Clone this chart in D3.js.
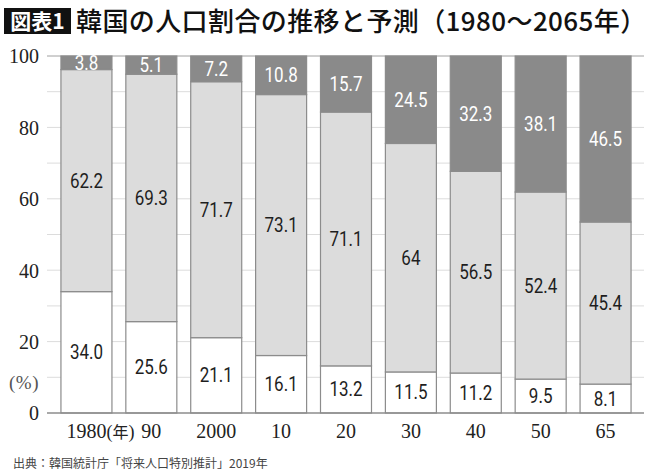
<!DOCTYPE html>
<html>
<head>
<meta charset="utf-8">
<script src="https://cdn.jsdelivr.net/npm/d3@7"></script>
<style>
  body { margin: 0; background: #fff; }
  svg { display: block; }
</style>
</head>
<body>
<div id="chart"></div>
<script>
// Data (percent of population by age group)
const years = ["1980", "90", "2000", "10", "20", "30", "40", "50", "65"];
const young = [34.0, 25.6, 21.1, 16.1, 13.2, 11.5, 11.2, 9.5, 8.1];     // 0-14
const working = [62.2, 69.3, 71.7, 73.1, 71.1, 64, 56.5, 52.4, 45.4];   // 15-64
const old = [3.8, 5.1, 7.2, 10.8, 15.7, 24.5, 32.3, 38.1, 46.5];        // 65+
const yTicks = [0, 20, 40, 60, 80, 100];

const width = 650, height = 472;

const svg = d3.select("#chart")
    .append("svg")
    .attr("width", width)
    .attr("height", height);

// Title
svg.append("rect")
    .attr("x", 4).attr("y", 8)
    .attr("width", 67).attr("height", 26)
    .attr("fill", "#111");

svg.append("text")
    .attr("x", 37.5).attr("y", 29)
    .attr("text-anchor", "middle")
    .attr("fill", "#fff")
    .style("font-family", "'Noto Sans CJK JP', sans-serif")
    .style("font-weight", 700)
    .style("font-size", "21px")
    .text("図表1");

svg.append("text")
    .attr("x", 76).attr("y", 31)
    .attr("fill", "#111")
    .style("font-family", "'Noto Sans CJK JP', sans-serif")
    .style("font-weight", 500)
    .style("font-size", "26px")
    .style("letter-spacing", "0.4px")
    .text("韓国の人口割合の推移と予測（1980〜2065年）");

// Scales
const x = d3.scaleBand()
    .domain(years)
    .range([54, 638])
    .paddingInner(0.214)
    .paddingOuter(0.107);

const y = d3.scaleLinear()
    .domain([0, 100])
    .range([413, 56]);

// Gridlines every 10
const grid = svg.append("g").attr("class", "grid");
grid.selectAll("line")
    .data(d3.range(10, 101, 10))
    .enter()
    .append("line")
    .attr("x1", 47).attr("x2", 644)
    .attr("y1", d => y(d)).attr("y2", d => y(d))
    .attr("stroke", d => d === 100 ? "#a0a0a0" : "#dcdcdc")
    .attr("stroke-width", 1);

// Stacked series
const rows = years.map((yr, i) => ({ year: yr, young: young[i], working: working[i], old: old[i] }));
const keys = ["young", "working", "old"];
const fills = { young: "#ffffff", working: "#dcdcdc", old: "#8a8a8a" };
const textColors = { young: "#1e1e1e", working: "#1e1e1e", old: "#ffffff" };
const fmt = {
    young: v => v.toFixed(1),
    working: v => String(v),
    old: v => String(v)
};

const stack = d3.stack().keys(keys)(rows);

const series = svg.append("g")
    .selectAll("g")
    .data(stack)
    .enter()
    .append("g");

series.selectAll("rect")
    .data(s => s.map(d => ({ key: s.key, d })))
    .enter()
    .append("rect")
    .attr("x", p => x(p.d.data.year))
    .attr("width", x.bandwidth())
    .attr("y", p => y(p.d[1]))
    .attr("height", p => y(p.d[0]) - y(p.d[1]))
    .attr("fill", p => fills[p.key])
    .attr("stroke", "#8c8c8c")
    .attr("stroke-width", 1.2);

// Value labels centred in each segment
series.selectAll("text")
    .data(s => s.map(d => ({ key: s.key, d })))
    .enter()
    .append("text")
    .attr("transform", p => {
        const cx = x(p.d.data.year) + x.bandwidth() / 2;
        const cy = (y(p.d[0]) + y(p.d[1])) / 2 + 7;
        return `translate(${cx},${cy}) scale(0.85,1)`;
    })
    .attr("text-anchor", "middle")
    .attr("fill", p => textColors[p.key])
    .style("font-family", "Roboto, 'Liberation Sans', sans-serif")
    .style("font-weight", 400)
    .style("font-size", "20px")
    .text(p => fmt[p.key](p.d.data[p.key]));

// Baseline
svg.append("line")
    .attr("x1", 47).attr("x2", 644)
    .attr("y1", y(0)).attr("y2", y(0))
    .attr("stroke", "#8c8c8c")
    .attr("stroke-width", 1.3);

// Y axis labels
const yAxis = d3.axisLeft(y).tickValues(yTicks).tickSize(0).tickPadding(0);
const yg = svg.append("g")
    .attr("transform", "translate(39,0)")
    .call(yAxis);
yg.select(".domain").remove();
yg.selectAll("text")
    .attr("fill", "#222")
    .attr("dy", "0.34em")
    .style("font-family", "'Liberation Serif', 'DejaVu Serif', serif")
    .style("font-size", "20px");

svg.append("text")
    .attr("x", 9).attr("y", 389)
    .attr("fill", "#555")
    .style("font-family", "'Liberation Serif', serif")
    .style("font-size", "19px")
    .style("letter-spacing", "0.5px")
    .text("(%)");

// X axis labels
const xAxis = d3.axisBottom(x).tickSize(0).tickPadding(0);
const xg = svg.append("g")
    .attr("transform", "translate(0,424)")
    .call(xAxis);
xg.select(".domain").remove();
xg.selectAll("text")
    .attr("fill", "#222")
    .attr("dy", "0.72em")
    .style("font-family", "'Liberation Serif', 'DejaVu Serif', serif")
    .style("font-size", "20px");

// "(年)" unit after the first year
const firstRight = x("1980") + x.bandwidth() / 2 + 20;
svg.append("text")
    .attr("x", firstRight).attr("y", 438)
    .attr("fill", "#222")
    .style("font-family", "'Liberation Serif', serif")
    .style("font-size", "18px")
    .call(t => {
        t.append("tspan").text("(");
        t.append("tspan")
            .style("font-family", "'Noto Sans CJK JP', sans-serif")
            .style("font-size", "16px")
            .text("年");
        t.append("tspan").text(")");
    });

// Source
svg.append("text")
    .attr("x", 13).attr("y", 468)
    .attr("fill", "#444")
    .style("font-family", "'Noto Sans CJK JP', sans-serif")
    .style("font-size", "12px")
    .text("出典：韓国統計庁「将来人口特別推計」2019年");
</script>
</body>
</html>
